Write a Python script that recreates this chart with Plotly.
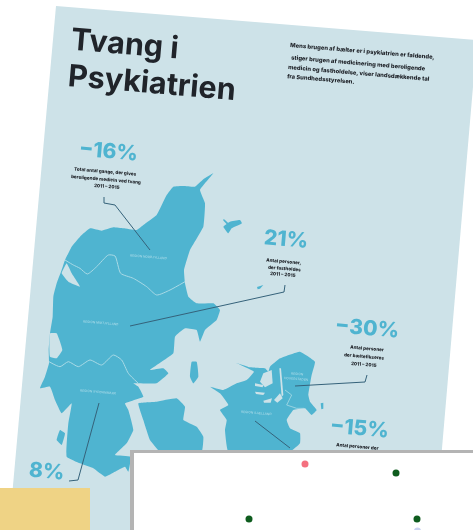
import plotly.graph_objects as go

# ---- scatter panel values ----
point_x = [305, 396, 249, 417, 417.5]
point_y = [464, 473, 519, 519, 531]
point_colors = ["#F4707F", "#0E5C1E", "#0E5C1E", "#0E5C1E", "#C9D2F0"]

# ---- poster outlines ----
poster_outline = [(56, 6), (477, 40), (435, 530), (9, 530)]
panel_outline = [(130, 450), (480, 450), (480, 535), (130, 535)]
panel_inner = [(134, 453), (480, 453), (480, 535), (134, 535)]
note_outline = [(0, 488), (90, 488), (90, 530), (0, 530)]

jutland = [(640,10),(610,28),(585,50),(550,48),(520,50),(500,75),(470,135),(430,165),(410,180),(370,175),
           (340,172),(305,182),(270,175),(240,200),(215,230),(195,270),(185,300),(170,340),(160,380),(158,440),
           (150,490),(146,540),(147,580),(135,620),(120,655),(150,650),(165,690),(185,730),(215,700),(205,760),
           (200,860),(240,880),(280,895),(315,920),(345,905),(375,890),(385,905),(392,860),(345,855),(380,820),
           (400,780),(385,720),(375,700),(430,680),(415,650),(400,640),(470,640),(505,610),(490,595),(450,600),
           (520,550),(525,500),(555,475),(590,480),(600,515),(615,480),(650,450),(660,420),(640,400),(590,400),
           (565,380),(555,340),(552,300),(570,240),(610,170),(615,100),(600,60)]
fyn = [(415,700),(470,695),(530,685),(555,710),(550,750),(590,770),(610,800),(605,845),(480,845),(450,810),(430,750)]
nissum = [(185,310),(200,280),(215,310),(240,350),(205,335)]
ringkobing = [(150,490),(170,490),(187,540),(170,565),(150,560)]
laeso = [(670,170),(690,155),(720,150),(726,160),(695,175),(685,190)]
anholt = [(771,351),(783,347),(790,345),(780,356),(773,358)]
samso = [(570,620),(575,575),(590,575),(595,620),(580,640)]
fano = [(170,810),(180,780),(195,790),(185,825)]
sejero = [(669,150),(672,148),(690,165),(686,168)]
zealand = [(30,170),(70,180),(110,160),(140,150),(162,125),(108,98),(150,112),(195,115),(205,125),(210,110),
           (240,85),(300,65),(345,95),(335,135),(325,195),(330,215),(350,240),(335,255),(315,235),(280,240),
           (260,270),(270,295),(300,310),(300,340),(270,365),(85,365),(75,300),(80,270),(60,240),(85,225),(60,190)]
isefjord = [(190,130),(215,120),(218,160),(195,172),(180,155)]
roskilde = [(238,115),(243,115),(250,195),(245,200)]
fjord_a = [(165,160),(190,165),(188,172),(165,168)]
fjord_b = [(165,185),(195,188),(190,195),(168,192)]
fjord_c = [(190,212),(216,205),(212,218),(192,218)]
fjord_d = [(222,210),(240,190),(248,205),(232,218)]
amager = [(362,220),(370,218),(370,236),(364,238)]

north_border = [(195,270),(220,285),(240,295),(262,312),(290,290),(325,255),(345,258),(362,310),(400,325),(440,350),(470,375),(510,360),(555,335)]
south_border = [(147,575),(180,590),(205,575),(235,590),(270,570),(305,585),(340,555),(365,570),(385,610),(415,640)]
capital_border = [(255,180),(275,195),(260,225),(290,235),(312,235)]

callout_a = [(104,197),(104,203),(115,205),(150,250)]
callout_b = [(130,326),(284,292),(285,285)]
callout_c = [(295,386),(365,382),(367,375)]
callout_d = [(255,421),(290,448)]
callout_e = [(99,403),(78,480),(69,481)]

# ---- texts ----
headline = ["Tvang i", "Psykiatrien"]
intro = ["Mens brugen af bælter er i psykiatrien er faldende,",
         "stiger brugen af medicinering med beroligende",
         "medicin og fastholdelse, viser landsdækkende tal",
         "fra Sundhedsstyrelsen."]
big_numbers = ["−16%", "21%", "−30%", "−15%", "8%"]
notes = ["Total antal gange, der gives", "beroligende medicin ved tvang", "2011 – 2015",
         "Antal personer,", "der fastholdes", "2011 – 2015",
         "Antal personer", "der bæltefikseres", "2011 – 2015",
         "Antal personer der"]
regions = ["REGION NORDJYLLAND", "REGION MIDTJYLLAND", "REGION SYDDANMARK", "REGION SJÆLLAND", "REGION", "HOVEDSTADEN"]

TEAL = "#4FB4D0"
PAPER = "#CDE2E8"
DARK = "#20242A"
ANGLE = 4.8


def west(pts):
    return [(x / 3, 170 + y / 3) for x, y in pts]


def east(pts):
    return [(200 + x / 3, 330 + y / 3) for x, y in pts]


fig = go.Figure()


def area(pts, color, smooth=False):
    xs, ys = zip(*pts)
    fig.add_trace(go.Scatter(x=list(xs) + [xs[0]], y=list(ys) + [ys[0]], mode="lines", fill="toself",
                             fillcolor=color,
                             line=dict(width=0, color=color, shape="spline" if smooth else "linear", smoothing=0.3),
                             hoverinfo="skip", showlegend=False))


def stroke(pts, color, width, smooth=False):
    xs, ys = zip(*pts)
    fig.add_trace(go.Scatter(x=list(xs), y=list(ys), mode="lines",
                             line=dict(width=width, color=color, shape="spline" if smooth else "linear", smoothing=0.6),
                             hoverinfo="skip", showlegend=False))


def label(x, y, text, size, color, weight=800, family="Inter"):
    fig.add_annotation(x=x, y=y, text=text, showarrow=False, textangle=ANGLE, xanchor="center", yanchor="middle",
                       font=dict(family=family, size=size, color=color, weight=weight))


area(poster_outline, PAPER)
for shape in (jutland, fyn, fano, samso, laeso, sejero):
    area(west(shape), TEAL, True)
area(west(nissum), PAPER, True)
area(west(ringkobing), PAPER, True)
area(west(anholt), TEAL)
area(east(zealand), TEAL, True)
for shape in (isefjord, roskilde, fjord_a, fjord_b, fjord_c, fjord_d):
    area(east(shape), PAPER)
area(east(amager), TEAL)
stroke(west(north_border), "#A9DAE6", 1, True)
stroke(west(south_border), "#A9DAE6", 1, True)
stroke(east(capital_border), "#A9DAE6", 0.8)

for line in (callout_a, callout_b, callout_c, callout_d, callout_e):
    stroke(line, "#35627A", 1)

area(note_outline, "#EFD385")
area(panel_outline, "#B4B4B4")
area(panel_inner, "#FFFFFF")

fig.add_trace(go.Scatter(x=point_x, y=point_y, mode="markers",
                         marker=dict(size=7, color=point_colors, line=dict(width=0)),
                         hoverinfo="skip", showlegend=False))

label(124.5, 42, headline[0], 30.5, DARK, 700)
label(152, 81, headline[1], 30.5, DARK, 700)
for (x, y), t in zip([(362, 51), (358, 62), (359, 72), (321, 78.5)], intro):
    label(x, y, t, 5.8, DARK)
for (x, y), t in zip([(108, 150), (286, 238), (367, 327), (359, 427), (47, 470)], big_numbers):
    label(x, y, t, 21, TEAL, 800)
for (x, y), t in zip([(105, 171), (106, 179), (107, 186), (284, 261), (284, 268), (283, 274),
                      (367, 348), (364, 356), (364, 364), (357, 446)], notes):
    label(x, y, t, 4.6, DARK)
for (x, y), t in zip([(149, 257), (101, 323), (98, 392), (256, 413), (297, 374), (296, 379)], regions):
    label(x, y, t, 3.2, "#9AD4E4", 600)

fig.update_layout(width=473, height=530, margin=dict(l=0, r=0, t=0, b=0), paper_bgcolor="white", plot_bgcolor="white",
                  xaxis=dict(range=[0, 473], visible=False, fixedrange=True),
                  yaxis=dict(range=[530, 0], visible=False, fixedrange=True), showlegend=False)
fig.write_html("out.html", config={"displayModeBar": False},
               post_script="document.body.style.margin='0';document.querySelector('.plotly-graph-div').style.filter='blur(0.4px)';")
